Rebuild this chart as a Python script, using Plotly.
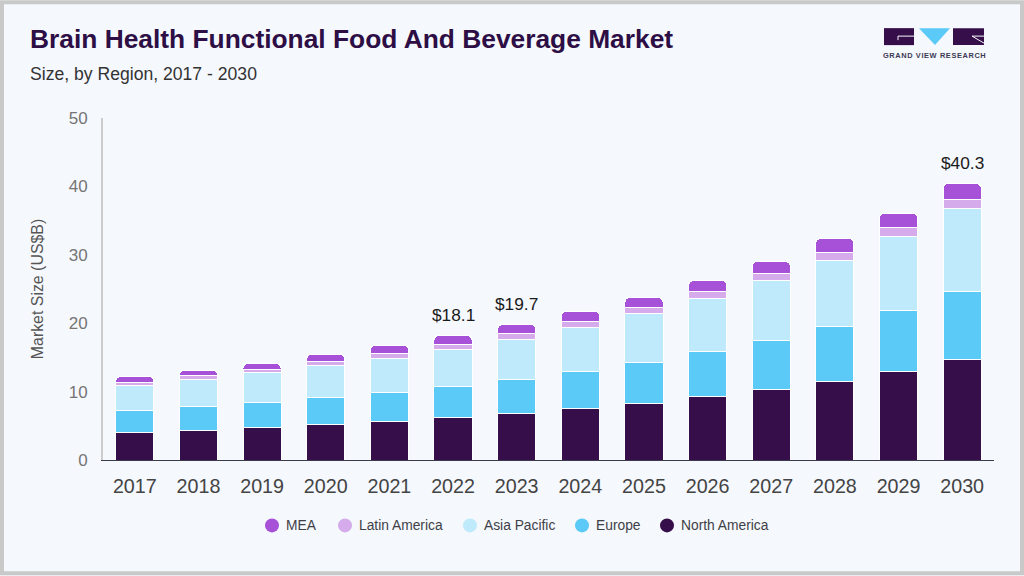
import plotly.graph_objects as go

years = ["2017","2018","2019","2020","2021","2022","2023","2024","2025","2026","2027","2028","2029","2030"]
north_america = [4.05,4.35,4.77,5.2,5.65,6.25,6.8,7.55,8.27,9.3,10.3,11.5,12.95,14.7]
europe = [3.15,3.45,3.6,3.9,4.2,4.45,5.0,5.4,6.0,6.55,7.15,8.0,8.9,9.9]
asia_pacific = [3.65,4.0,4.4,4.7,5.0,5.45,5.8,6.45,7.15,7.75,8.75,9.65,10.8,12.15]
latin_america = [.55,.6,.45,.6,.75,.75,.9,.85,.9,1.0,1.05,1.15,1.3,1.3]
mea = [.8,.75,.88,1.05,1.2,1.3,1.3,1.5,1.45,1.63,1.75,2.1,2.1,2.35]
label_years = ["2022","2023","2030"]
label_totals = [18.1,19.7,40.3]

names = ["North America","Europe","Asia Pacific","Latin America","MEA"]
series = [north_america,europe,asia_pacific,latin_america,mea]
colors = ["#360f4a","#5ccaf6","#bfeafb","#d5abec","#a750d8"]
legend_marker_px = [667,582,470,345,272]

W,H = 1024,576
L,R,T,B = 103,994,118,460.5
BG = "#f5f8fd"
def px(x): return (x-L)/(R-L)
def py(y): return (B-y)/(B-T)

fig = go.Figure()
for n,v,c in zip(names,series,colors):
    fig.add_trace(go.Bar(x=years,y=v,name=n,marker=dict(color=c,line=dict(color="#ffffff",width=1)),showlegend=False))

shapes = [dict(type="rect",xref="paper",yref="paper",x0=px(2),x1=px(W-2),y0=py(H-2),y1=py(2),
               line=dict(color="#c9c9c9",width=4),layer="below")]
def poly(pts,fill):
    path = "M "+" L ".join(f"{px(a):.5f},{py(b):.5f}" for a,b in pts)+" Z"
    shapes.append(dict(type="path",xref="paper",yref="paper",path=path,fillcolor=fill,line=dict(width=0)))
def seg(a,b,c,d):
    shapes.append(dict(type="line",xref="paper",yref="paper",x0=px(a),y0=py(b),x1=px(c),y1=py(d),line=dict(color=BG,width=1)))
poly([(884,28),(914,28),(914,45),(884,45)],"#360f4a")
poly([(919,28),(950,28),(935,45)],"#5ccaf6")
poly([(953,28),(984,28),(984,45),(953,45)],"#360f4a")
seg(898,36,914,36); seg(898,36,898,40); seg(972,36,984,36); seg(972,36,984,43)

annotations = [dict(xref="x",yref="y",x=years.index(yr),y=t,text=f"${t}",showarrow=False,yshift=9,yanchor="bottom",
                    font=dict(size=17.3,color="#1a1a1a")) for yr,t in zip(label_years,label_totals)]
annotations += [
    dict(xref="paper",yref="paper",x=px(28),y=py(74),text="Size, by Region, 2017 - 2030",showarrow=False,
         xanchor="left",yanchor="middle",font=dict(size=17.6,color="#333333")),
    dict(xref="paper",yref="paper",x=px(934),y=py(55),text="<b>"+"\u200a".join("GRAND VIEW RESEARCH")+"</b>",showarrow=False,
         xanchor="center",yanchor="middle",font=dict(size=7.4,color="#3b3a55")),
]
for n,c,m in zip(names,colors,legend_marker_px):
    shapes.append(dict(type="circle",xref="paper",yref="paper",x0=px(m-7),x1=px(m+7),y0=py(533),y1=py(519),
                       fillcolor=c,line=dict(width=0)))
    annotations.append(dict(xref="paper",yref="paper",x=px(m+12),y=py(526),text=n,showarrow=False,
                            xanchor="left",yanchor="middle",font=dict(size=13.8,color="#3f3f46")))

fig.update_layout(
    width=W,height=H,barmode="stack",bargap=0.4,barcornerradius=5,showlegend=False,
    paper_bgcolor=BG,plot_bgcolor=BG,
    margin=dict(l=L,r=W-R,t=T,b=H-B,autoexpand=False),
    font=dict(family="Liberation Sans, Arial, sans-serif"),
    title=dict(text="<b>Brain Health Functional Food And Beverage Market</b>",x=30/W,y=1-39/H,xanchor="left",yanchor="middle",
               font=dict(size=26.35,color="#2d0e45")),
    xaxis=dict(type="category",showgrid=False,showline=True,linecolor="#3a3a4a",linewidth=1,ticks="",
               ticklabelstandoff=8,tickfont=dict(size=19.7,color="#444444")),
    yaxis=dict(range=[0,50],showgrid=False,zeroline=False,showline=True,linecolor="#cccccc",linewidth=2,ticks="",
               tickvals=[0,10,20,30,40,50],ticklabelstandoff=10,tickfont=dict(size=17,color="#757575"),
               title=dict(text="Market Size (US$B)",font=dict(size=15.9,color="#555555"),standoff=21)),
    shapes=shapes,annotations=annotations,
)
fig.write_html("out.html",config=dict(displayModeBar=False),post_script="document.body.style.margin='0';document.body.style.overflow='hidden';")
